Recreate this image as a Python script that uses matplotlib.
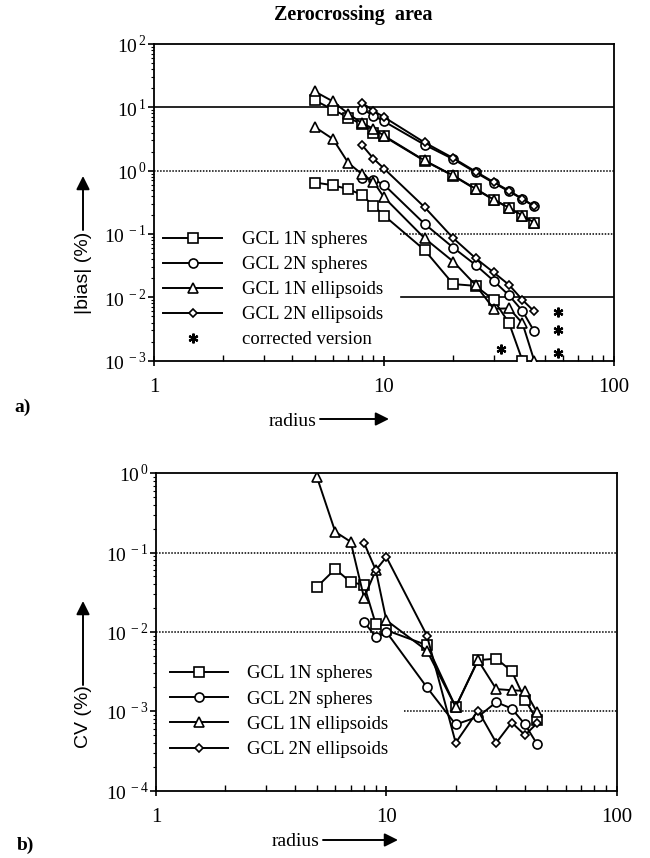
import numpy as np
import matplotlib.pyplot as plt
from matplotlib.ticker import FixedLocator, FuncFormatter, LogLocator, NullFormatter

plt.rcParams['font.family'] = ['Liberation Serif', 'DejaVu Sans']
plt.rcParams['mathtext.fontset'] = 'custom'
plt.rcParams['mathtext.rm'] = 'Liberation Serif'
plt.rcParams['axes.linewidth'] = 1.3

W, H = 650, 858

radius = [5, 6, 7, 8, 9, 10, 15, 20, 25, 30, 35, 40, 45]
radius_to40 = radius[:12]
radius_from8 = radius[3:]

# a) |bias| (%), two curves per model
bias_1n_sph_hi = [12.9, 9.2, 6.9, 5.4, 4.0, 3.47, 1.43, 0.83, 0.51, 0.347, 0.257, 0.194, 0.149]
bias_1n_sph_lo = [0.65, 0.59, 0.51, 0.416, 0.279, 0.196, 0.056, 0.0162, 0.0152, 0.0091, 0.0039, 0.001]
bias_2n_sph_hi = [9.5, 7.4, 6.0, 2.57, 1.52, 0.94, 0.64, 0.47, 0.356, 0.272]
bias_2n_sph_lo = [0.76, 0.72, 0.6, 0.145, 0.061, 0.0326, 0.0182, 0.0107, 0.0061, 0.0029]
bias_1n_ell_hi = [17.8, 12.4, 7.9, 5.65, 4.6, 3.56, 1.45, 0.84, 0.52, 0.35, 0.26, 0.196, 0.151]
bias_1n_ell_lo = [4.9, 3.16, 1.32, 0.89, 0.67, 0.38, 0.086, 0.0368, 0.0157, 0.0066, 0.0067, 0.0039, 0.001]
bias_2n_ell_hi = [11.9, 8.8, 7.0, 2.79, 1.58, 0.97, 0.66, 0.48, 0.36, 0.275]
bias_2n_ell_lo = [2.57, 1.55, 1.08, 0.266, 0.086, 0.0416, 0.0247, 0.0157, 0.0091, 0.006]
corr_radius = [32.4, 56.9, 56.9, 56.9]
corr_bias = [0.00154, 0.00583, 0.00307, 0.00134]

# b) CV (%)
cv_1n_sph = [0.037, 0.062, 0.0425, 0.039, 0.0125, 0.0105, 0.0068, 0.00113, 0.0044, 0.0046, 0.0032, 0.0014, 0.00078]
cv_2n_sph = [0.0133, 0.0087, 0.01, 0.002, 0.00068, 0.00085, 0.0013, 0.00108, 0.00068, 0.00039]
cv_1n_ell = [0.89, 0.183, 0.137, 0.027, 0.06, 0.014, 0.0058, 0.00113, 0.0044, 0.0019, 0.00184, 0.0018, 0.00098]
cv_2n_ell = [0.133, 0.06, 0.088, 0.009, 0.0004, 0.00102, 0.0004, 0.00072, 0.0005, 0.0007]

labels = ['GCL 1N spheres', 'GCL 2N spheres', 'GCL 1N ellipsoids', 'GCL 2N ellipsoids']
markers = ['s', 'o', '^', 'D']
msizes = [7, 6.5, 6.5, 4.5]


def fx(px):
    return px / W


def fy(py):
    return 1 - py / H


def curve(ax, x, y, i):
    return ax.plot(x, y, color='black', lw=1.4, marker=markers[i], ms=msizes[i],
                   mfc='white', mec='black', mew=1.2, zorder=3)[0]


def style_axis(ax, ymin, ymax):
    ax.set_xscale('log')
    ax.set_yscale('log')
    ax.set_xlim(1, 100)
    ax.set_ylim(ymin, ymax)
    ax.xaxis.set_major_locator(FixedLocator([1, 10, 100]))
    ax.xaxis.set_major_formatter(FuncFormatter(lambda v, p: '%d' % round(v)))
    ax.xaxis.set_minor_locator(LogLocator(base=10, subs=np.arange(2, 10)))
    ax.xaxis.set_minor_formatter(NullFormatter())
    ax.yaxis.set_major_locator(LogLocator(base=10, numticks=10))
    ax.yaxis.set_major_formatter(FuncFormatter(lambda v, p: r'$10^{\,%d}$' % round(np.log10(v))))
    ax.yaxis.set_minor_locator(LogLocator(base=10, subs=np.arange(2, 10), numticks=20))
    ax.yaxis.set_minor_formatter(NullFormatter())
    ax.tick_params(axis='x', which='major', direction='inout', length=7, width=1.2, pad=9, labelsize=15)
    ax.tick_params(axis='x', which='minor', direction='in', length=4, width=1)
    ax.tick_params(axis='y', which='major', direction='out', length=4, width=1.2, pad=1, labelsize=14)
    ax.tick_params(axis='y', which='minor', direction='out', length=2.5, width=0.8)


def arrow(ax, x0, y0, x1, y1):
    ax.annotate('', xy=(fx(x1), fy(y1)), xytext=(fx(x0), fy(y0)),
                xycoords='figure fraction', textcoords='figure fraction',
                annotation_clip=False,
                arrowprops=dict(arrowstyle='-|>', color='black', lw=1.4,
                                mutation_scale=20, shrinkA=0, shrinkB=0))


fig = plt.figure(figsize=(6.5, 8.58), dpi=100)

# ---- a) ----
ax1 = fig.add_axes([fx(154), fy(360.7), (614 - 154) / W, (360.7 - 44) / H])
style_axis(ax1, 1e-3, 1e2)
dot = (0, (1, 1))
ax1.axhline(10, color='black', lw=1.2, zorder=1)
ax1.axhline(1, color='black', lw=1.1, ls=dot, zorder=1)
ax1.axhline(0.1, xmin=0.535, color='black', lw=1.1, ls=dot, zorder=1)
ax1.axhline(0.01, xmin=0.537, color='black', lw=1.2, zorder=1)

h = []
h.append(curve(ax1, radius_to40, bias_1n_sph_lo, 0))
curve(ax1, radius, bias_1n_sph_hi, 0)
h.append(curve(ax1, radius_from8, bias_2n_sph_lo, 1))
curve(ax1, radius_from8, bias_2n_sph_hi, 1)
h.append(curve(ax1, radius, bias_1n_ell_lo, 2))
curve(ax1, radius, bias_1n_ell_hi, 2)
h.append(curve(ax1, radius_from8, bias_2n_ell_lo, 3))
curve(ax1, radius_from8, bias_2n_ell_hi, 3)
star = ax1.plot(corr_radius, corr_bias, ls='none', marker=(6, 2, 0), ms=7,
                mec='black', mew=1.6, color='black', zorder=3, clip_on=False)[0]

ax1.legend(h + [star], labels + ['corrected version'], loc='upper left',
           bbox_to_anchor=(fx(163), fy(231)), bbox_transform=fig.transFigure,
           frameon=False, borderpad=0, borderaxespad=0, numpoints=1,
           handlelength=3.15, handletextpad=1.05, labelspacing=0.42, fontsize=13.5)

# ---- b) ----
ax2 = fig.add_axes([fx(156), fy(790.5), (616.7 - 156) / W, (790.5 - 473.3) / H])
style_axis(ax2, 1e-4, 1e0)
ax2.axhline(0.1, color='black', lw=1.1, ls=dot, zorder=1)
ax2.axhline(0.01, color='black', lw=1.1, ls=dot, zorder=1)
ax2.axhline(0.001, xmin=0.538, color='black', lw=1.1, ls=dot, zorder=1)

h2 = []
h2.append(curve(ax2, radius, cv_1n_sph, 0))
h2.append(curve(ax2, radius_from8, cv_2n_sph, 1))
h2.append(curve(ax2, radius, cv_1n_ell, 2))
h2.append(curve(ax2, radius_from8, cv_2n_ell, 3))
ax2.legend(h2, labels, loc='upper left',
           bbox_to_anchor=(fx(170), fy(665)), bbox_transform=fig.transFigure,
           frameon=False, borderpad=0, borderaxespad=0, numpoints=1,
           handlelength=3.1, handletextpad=1.0, labelspacing=0.44, fontsize=13.5)

# ---- texts and arrows ----
fig.text(fx(353), fy(15), 'Zerocrossing  area', ha='center', va='center',
         fontsize=14.5, fontweight='bold')
fig.text(fx(23), fy(407), 'a)', ha='center', va='center', fontsize=14, fontweight='bold')
fig.text(fx(25), fy(845), 'b)', ha='center', va='center', fontsize=14, fontweight='bold')

fig.text(fx(83), fy(273), '|bias| (%)', rotation=90, ha='center', va='center',
         fontsize=14, family='Liberation Sans')
arrow(ax1, 83, 230, 83, 176)
fig.text(fx(83), fy(717), 'CV (%)', rotation=90, ha='center', va='center',
         fontsize=14, family='Liberation Sans')
arrow(ax2, 83, 685, 83, 601)

fig.text(fx(293), fy(421), 'radius', ha='center', va='center', fontsize=14)
arrow(ax1, 320, 419, 389, 419)
fig.text(fx(296), fy(842), 'radius', ha='center', va='center', fontsize=14)
arrow(ax2, 323, 840, 398, 840)

fig.savefig('out.png', dpi=100)
